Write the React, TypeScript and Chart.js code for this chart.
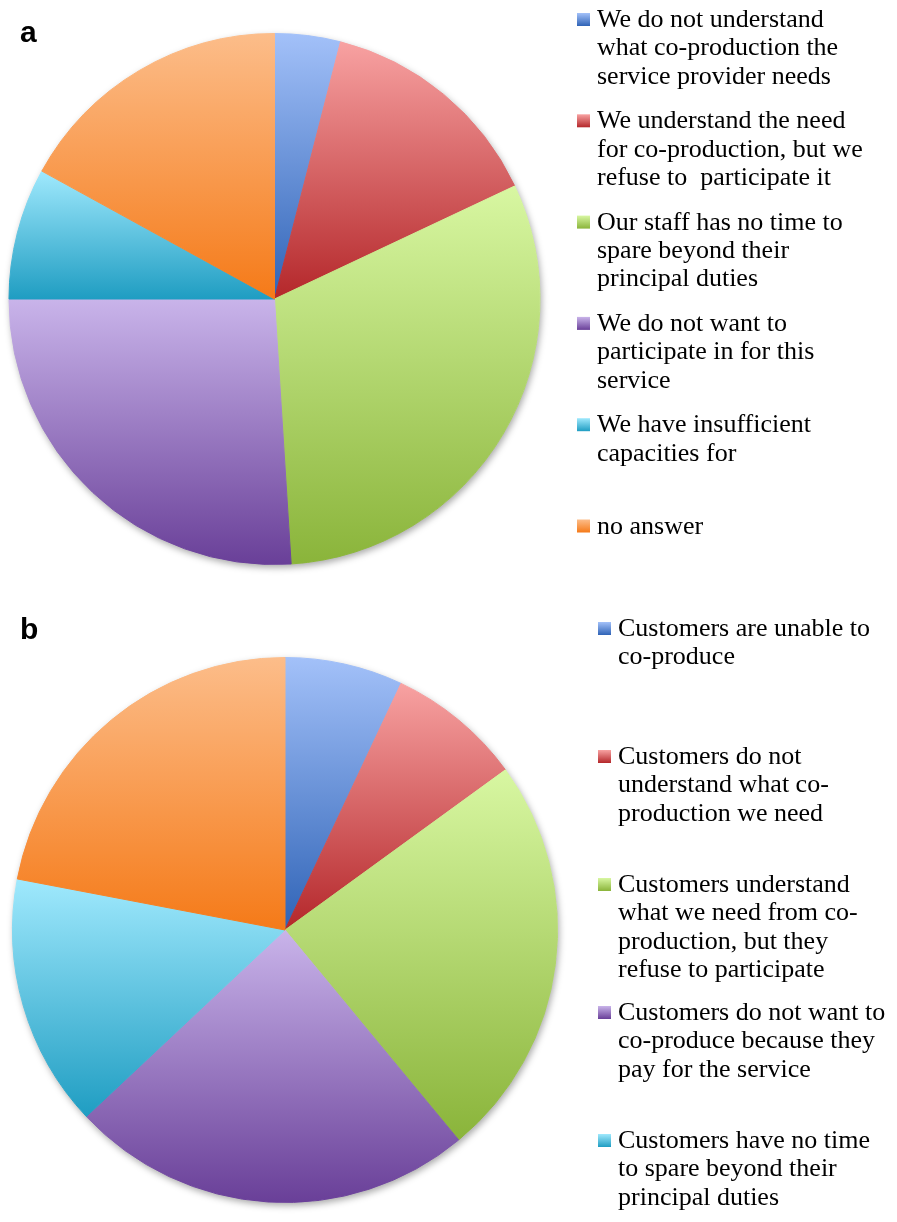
import React, { useEffect, useRef } from "react";
import { Chart, registerables } from "chart.js";

Chart.register(...registerables);

// Panel a: reasons given by the service provider's staff
const categoriesA: string[][] = [
  ["We do not understand", "what co-production the", "service provider needs"],
  ["We understand the need", "for co-production, but we", "refuse to  participate it"],
  ["Our staff has no time to", "spare beyond their", "principal duties"],
  ["We do not want to", "participate in for this", "service"],
  ["We have insufficient", "capacities for"],
  ["no answer"],
];
const valuesA: number[] = [4, 14, 31, 26, 8, 17];

// Panel b: reasons attributed to customers
const categoriesB: string[][] = [
  ["Customers are unable to", "co-produce"],
  ["Customers do not", "understand what co-", "production we need"],
  ["Customers understand", "what we need from co-", "production, but they", "refuse to participate"],
  ["Customers do not want to", "co-produce because they", "pay for the service"],
  ["Customers have no time", "to spare beyond their", "principal duties"],
  ["no answer"],
];
const valuesB: number[] = [7, 8, 24, 24, 15, 22];

// Slice fills: light at the top of each slice, deep at its bottom
const lightColors = ["#a3c1f9", "#f8a2a2", "#d8f7a2", "#c9b4ea", "#a0e9fd", "#fcbd8a"];
const darkColors = ["#2f63b6", "#b4272a", "#8ab43a", "#693f98", "#1f9dc2", "#f57a18"];

const TAU = Math.PI * 2;

function sliceGradient(context: any) {
  const chart = context.chart;
  const area = chart.chartArea;
  const i = context.dataIndex;
  if (!area || i === undefined) return darkColors[i || 0];
  const data = context.dataset.data as number[];
  const total = data.reduce((a, b) => a + b, 0);
  let before = 0;
  for (let k = 0; k < i; k++) before += data[k];
  const start = -Math.PI / 2 + (before / total) * TAU;
  const end = start + (data[i] / total) * TAU;
  const cx = (area.left + area.right) / 2;
  const cy = (area.top + area.bottom) / 2;
  const r = Math.min(area.right - area.left, area.bottom - area.top) / 2;
  let top = Math.min(cy, cy + r * Math.sin(start), cy + r * Math.sin(end));
  let bottom = Math.max(cy, cy + r * Math.sin(start), cy + r * Math.sin(end));
  if (start <= Math.PI / 2 && end >= Math.PI / 2) bottom = cy + r;
  if (start <= -Math.PI / 2 + 1e-9 || end >= 1.5 * Math.PI - 1e-9) top = cy - r;
  const g = chart.ctx.createLinearGradient(0, top, 0, bottom);
  g.addColorStop(0, lightColors[i]);
  g.addColorStop(1, darkColors[i]);
  return g;
}

// Soft drop shadow under the whole pie
const pieShadow = {
  id: "pieShadow",
  beforeDatasetsDraw(chart: any) {
    const arc: any = chart.getDatasetMeta(0).data[0];
    if (!arc) return;
    const { ctx } = chart;
    ctx.save();
    ctx.shadowColor = "rgba(0,0,0,0.35)";
    ctx.shadowBlur = 7;
    ctx.shadowOffsetX = 1.5;
    ctx.shadowOffsetY = 3;
    ctx.beginPath();
    ctx.arc(arc.x, arc.y, arc.outerRadius, 0, TAU);
    ctx.fillStyle = "#ffffff";
    ctx.fill();
    ctx.restore();
  },
};

// Legend at the right with wrapped labels, plus the bold panel letter
const sideLegend = {
  id: "sideLegend",
  afterDraw(chart: any, _args: any, opts: any) {
    const { ctx } = chart;
    const labels = chart.data.labels as string[][];
    ctx.save();
    ctx.font = 'bold 30px "Liberation Sans", Arial, sans-serif';
    ctx.fillStyle = "#000";
    ctx.textBaseline = "alphabetic";
    ctx.fillText(opts.tag, opts.tagX, opts.tagY);

    ctx.font = `${opts.fontSize}px "Liberation Serif", "Times New Roman", serif`;
    labels.forEach((lines, i) => {
      const base = opts.firstBaseline + i * opts.pitch;
      const boxTop = base - 14;
      const g = ctx.createLinearGradient(0, boxTop, 0, boxTop + 13);
      g.addColorStop(0, lightColors[i]);
      g.addColorStop(1, darkColors[i]);
      ctx.fillStyle = g;
      ctx.fillRect(opts.boxX, boxTop, 13, 13);
      ctx.fillStyle = "#000";
      lines.forEach((line, j) => {
        ctx.fillText(line, opts.textX, base + j * opts.lineHeight);
      });
    });
    ctx.restore();
  },
};

type PanelSpec = {
  tag: string;
  categories: string[][];
  values: number[];
  top: number;
  height: number;
  padding: { left: number; right: number; top: number; bottom: number };
  legend: { boxX: number; textX: number; firstBaseline: number; pitch: number; tagX: number; tagY: number };
};

const panels: PanelSpec[] = [
  {
    tag: "a",
    categories: categoriesA,
    values: valuesA,
    top: 0,
    height: 600,
    padding: { left: 8.5, right: 356.5, top: 33, bottom: 35 },
    legend: { boxX: 577, textX: 597, firstBaseline: 27, pitch: 101.3, tagX: 20, tagY: 42 },
  },
  {
    tag: "b",
    categories: categoriesB,
    values: valuesB,
    top: 600,
    height: 622,
    padding: { left: 12, right: 339, top: 57, bottom: 19 },
    legend: { boxX: 598, textX: 618, firstBaseline: 36, pitch: 128, tagX: 20, tagY: 39 },
  },
];

function PiePanel({ spec }: { spec: PanelSpec }) {
  const ref = useRef<HTMLCanvasElement>(null);
  useEffect(() => {
    const canvas = ref.current;
    if (!canvas) return;
    const chart = new Chart(canvas, {
      type: "pie",
      data: {
        labels: spec.categories as any,
        datasets: [
          {
            data: spec.values,
            backgroundColor: sliceGradient as any,
            borderColor: sliceGradient as any,
            borderWidth: 1,
            hoverOffset: 0,
          },
        ],
      },
      options: {
        responsive: false,
        maintainAspectRatio: false,
        animation: false,
        events: [],
        layout: { padding: spec.padding },
        plugins: {
          legend: { display: false },
          tooltip: { enabled: false },
          sideLegend: {
            tag: spec.tag,
            fontSize: 26,
            lineHeight: 28.3,
            ...spec.legend,
          },
        } as any,
      },
      plugins: [pieShadow, sideLegend],
    });
    return () => chart.destroy();
  }, [spec]);
  return (
    <canvas
      ref={ref}
      width={897}
      height={spec.height}
      style={{ position: "absolute", left: 0, top: spec.top, display: "block" }}
    />
  );
}

export default function App() {
  return (
    <div
      style={{
        position: "absolute",
        left: 0,
        top: 0,
        width: 897,
        height: 1222,
        overflow: "hidden",
        background: "#ffffff",
      }}
    >
      {panels.map((p) => (
        <PiePanel key={p.tag} spec={p} />
      ))}
    </div>
  );
}
